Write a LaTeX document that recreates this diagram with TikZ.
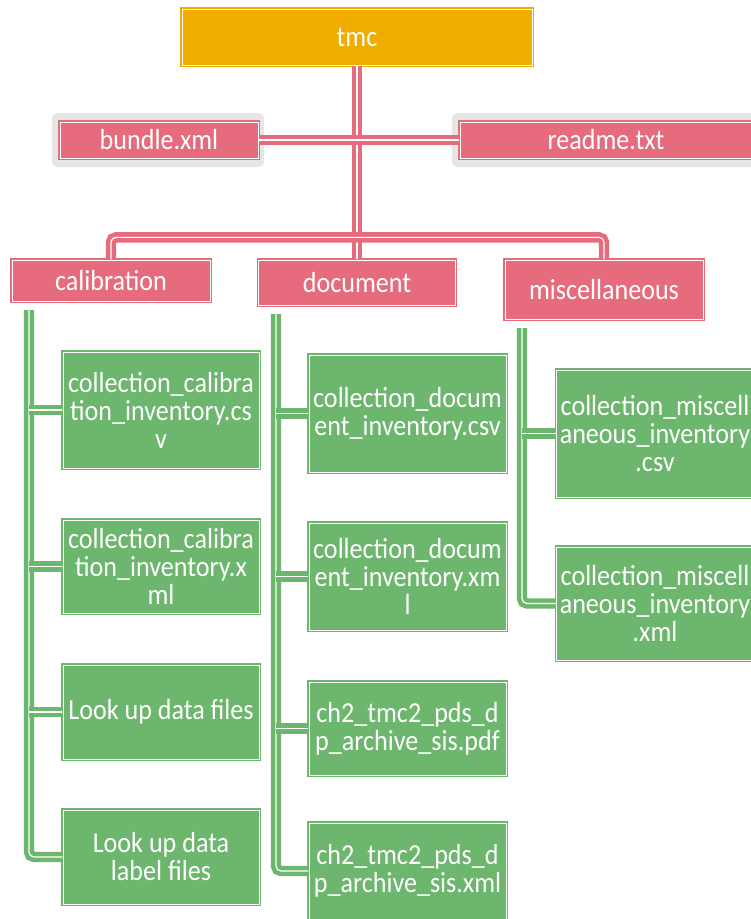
\documentclass[tikz,border=0pt]{standalone}
\usepackage{fontspec}
\setmainfont{Carlito}[FakeStretch=0.9]
\definecolor{topgold}{HTML}{F0AD00}
\definecolor{rosefill}{HTML}{E66C7D}
\definecolor{leafgreen}{HTML}{6DB66E}
\definecolor{shadowgray}{HTML}{E6E6E6}

\begin{document}
\begin{tikzpicture}[x=1pt,y=-1pt,
  box/.style={rectangle, draw=#1, fill=#1, double=white, double distance=0.9pt,
    line width=1.3pt, text=white, align=center, inner sep=0pt,
    font=\fontsize{29}{28}\selectfont},
  wire/.style={draw=#1, double=white, double distance=1.2pt, line width=4.6pt,
    rounded corners=5pt},
]
\useasboundingbox (0,0) rectangle (751,919);
\clip (0,0) rectangle (751,919);

% soft gray plates behind the two root files
\fill[shadowgray, rounded corners=5pt] (52,113) rectangle (264,167);
\fill[shadowgray, rounded corners=5pt] (452,113) rectangle (765,167);

% top level
\node[box=topgold, minimum width=350, minimum height=56] (tmc) at (357,37) {tmc};
\node[box=rosefill, minimum width=198, minimum height=36] (bundle) at (159,140) {bundle.xml};
\node[box=rosefill, minimum width=292, minimum height=36] (readme) at (606,140) {readme.txt};

% folders
\node[box=rosefill, minimum width=198, minimum height=41] (calib) at (111,280.5) {calibration};
\node[box=rosefill, minimum width=197, minimum height=45] (doc) at (357,282.5) {document};
\node[box=rosefill, minimum width=198, minimum height=59] (misc) at (604,289.5) {miscellaneous};

% calibration contents
\node[box=leafgreen, minimum width=196, minimum height=116] (c1) at (161,410) {collection\_calibra\\tion\_inventory.cs\\v};
\node[box=leafgreen, minimum width=196, minimum height=93] (c2) at (161,566.5) {collection\_calibra\\tion\_inventory.x\\ml};
\node[box=leafgreen, minimum width=196, minimum height=94] (c3) at (161,712) {Look up data files};
\node[box=leafgreen, minimum width=196, minimum height=94] (c4) at (161,857) {Look up data\\label files};

% document contents
\node[box=leafgreen, minimum width=197, minimum height=117] (d1) at (407.5,413.5) {collection\_docum\\ent\_inventory.csv};
\node[box=leafgreen, minimum width=197, minimum height=107] (d2) at (407.5,576.5) {collection\_docum\\ent\_inventory.xm\\l};
\node[box=leafgreen, minimum width=197, minimum height=93] (d3) at (407.5,728.5) {ch2\_tmc2\_pds\_d\\p\_archive\_sis.pdf};
\node[box=leafgreen, minimum width=197, minimum height=96] (d4) at (407.5,871) {ch2\_tmc2\_pds\_d\\p\_archive\_sis.xml};

% miscellaneous contents
\node[box=leafgreen, minimum width=197, minimum height=127] (m1) at (655,433.5) {collection\_miscell\\aneous\_inventory\\.csv};
\node[box=leafgreen, minimum width=197, minimum height=113] (m2) at (655,603.5) {collection\_miscell\\aneous\_inventory\\.xml};

% pink hierarchy wires
\draw[wire=rosefill] (tmc.south) -- (doc.north);
\draw[wire=rosefill] (bundle.east) -- (readme.west);
\draw[wire=rosefill] (calib.north) -- ++(0,-22) -| (misc.north);

% green list trunks
\coordinate (calTop) at (29,310);
\coordinate (docTop) at (276,314);
\coordinate (miscTop) at (522,328);

\draw[wire=leafgreen] (calTop) |- (c4.west);
\draw[wire=leafgreen, rounded corners=0pt] (calTop |- c1.west) -- (c1.west);
\draw[wire=leafgreen, rounded corners=0pt] (calTop |- c2.west) -- (c2.west);
\draw[wire=leafgreen, rounded corners=0pt] (calTop |- c3.west) -- (c3.west);

\draw[wire=leafgreen] (docTop) |- (d4.west);
\draw[wire=leafgreen, rounded corners=0pt] (docTop |- d1.west) -- (d1.west);
\draw[wire=leafgreen, rounded corners=0pt] (docTop |- d2.west) -- (d2.west);
\draw[wire=leafgreen, rounded corners=0pt] (docTop |- d3.west) -- (d3.west);

\draw[wire=leafgreen] (miscTop) |- (m2.west);
\draw[wire=leafgreen, rounded corners=0pt] (miscTop |- m1.west) -- (m1.west);
\end{tikzpicture}
\end{document}
